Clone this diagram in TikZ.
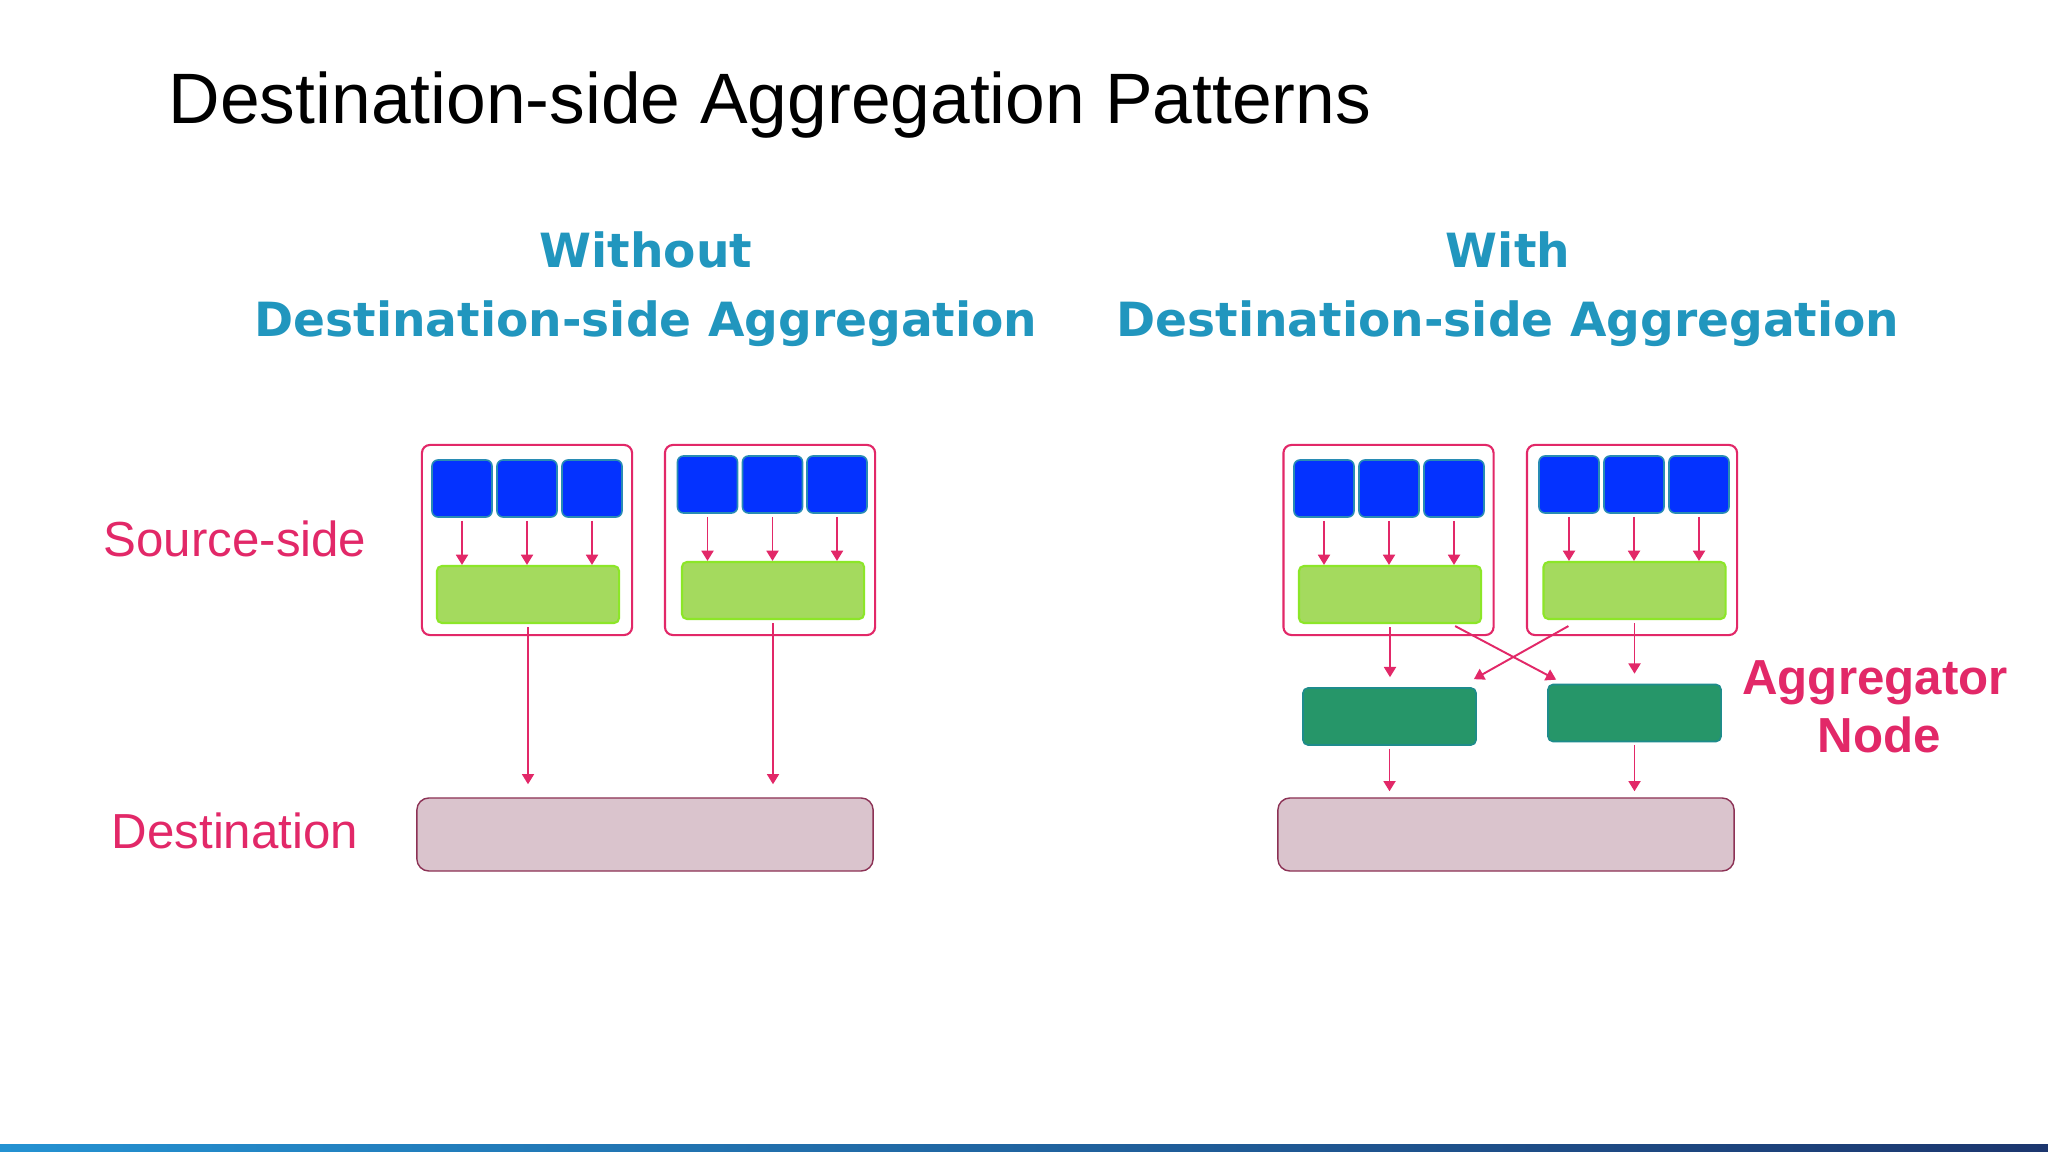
\documentclass[tikz,border=0pt]{standalone}
\usepackage{fontspec}
\setmainfont{Liberation Sans}
\newfontfamily\headfont{DejaVu Sans}
\usetikzlibrary{arrows.meta}
\definecolor{pinkc}{RGB}{226,40,104}
\definecolor{headc}{RGB}{33,150,190}
\definecolor{bluef}{RGB}{4,50,255}
\definecolor{blued}{RGB}{40,140,180}
\definecolor{greenf}{RGB}{164,218,94}
\definecolor{greend}{RGB}{140,230,40}
\definecolor{aggf}{RGB}{38,150,105}
\definecolor{aggd}{RGB}{30,140,140}
\definecolor{destf}{RGB}{218,196,205}
\definecolor{destd}{RGB}{140,50,85}
\definecolor{barl}{RGB}{36,146,210}
\definecolor{barr}{RGB}{28,54,110}

\begin{document}
\begin{tikzpicture}[x=0.01cm,y=-0.01cm]
\tikzstyle{grp}=[draw=pinkc,line width=0.6pt,fill=white,rounded corners=0.08cm,
minimum width=2.1cm,minimum height=1.9cm,inner sep=0pt]
\tikzstyle{src}=[draw=blued,line width=0.45pt,fill=bluef,rounded corners=0.06cm,
minimum width=0.6cm,minimum height=0.57cm,inner sep=0pt]
\tikzstyle{loc}=[draw=greend,line width=0.6pt,fill=greenf,rounded corners=0.05cm,
minimum width=1.82cm,minimum height=0.57cm,inner sep=0pt]
\tikzstyle{agg}=[draw=aggd,line width=0.45pt,fill=aggf,rounded corners=0.05cm,
minimum width=1.73cm,minimum height=0.57cm,inner sep=0pt]
\tikzstyle{dst}=[draw=destd,line width=0.4pt,fill=destf,rounded corners=0.12cm,
minimum width=4.56cm,minimum height=0.73cm,inner sep=0pt]
\tikzstyle{arr}=[draw=pinkc,line width=0.55pt,-{Triangle[width=3.4pt,length=2.9pt]}]
\tikzstyle{head}=[text=headc,font=\headfont\bfseries\fontsize{13.4}{16}\selectfont,anchor=base]
\tikzstyle{lbl}=[text=pinkc,font=\fontsize{14}{17}\selectfont,anchor=base]
\tikzstyle{aglbl}=[text=pinkc,font=\bfseries\fontsize{14}{17}\selectfont,anchor=base]

\fill[white] (0,0) rectangle (2048,1152);
\useasboundingbox (0,0) rectangle (2048,1152);

% titles
\node[anchor=base west,inner sep=0pt,font=\fontsize{20.3}{24}\selectfont] (title) at (168,124)
{Destination-side Aggregation Patterns};
\node[head] (hL1) at (646,268) {Without};
\node[head] (hL2) at (646,337) {Destination-side Aggregation};
\node[head] (hR1) at (1508,268) {With};
\node[head] (hR2) at (1508,337) {Destination-side Aggregation};
\node[lbl] (srcl) at (235,557) {Source-side};
\node[lbl] (dstl) at (235,848) {Destination};
\node[aglbl] (agl1) at (1875,695) {Aggregator};
\node[aglbl] (agl2) at (1879,752) {Node};

% without destination-side aggregation
\node[grp] (L1) at (527,540) {};
\node[loc] (L1g) at (528,594.5) {};
\foreach \i/\x in {1/462,2/527,3/592}{
\node[src] (L1s\i) at (\x,488.5) {};
\draw[arr,shorten <=0.03cm] (L1s\i.south) -- (L1s\i.south |- L1g.north);
}
\node[grp] (L2) at (770,540) {};
\node[loc] (L2g) at (773,590.5) {};
\foreach \i/\x in {1/707.5,2/772.5,3/837}{
\node[src] (L2s\i) at (\x,484.5) {};
\draw[arr,shorten <=0.03cm] (L2s\i.south) -- (L2s\i.south |- L2g.north);
}
\node[dst] (LD) at (645,834.5) {};
\draw[arr,shorten <=0.03cm,shorten >=0.13cm] (L1g.south) -- (L1g.south |- LD.north);
\draw[arr,shorten <=0.03cm,shorten >=0.13cm] (L2g.south) -- (L2g.south |- LD.north);

% with destination-side aggregation
\node[grp] (R1) at (1388.5,540) {};
\node[loc] (R1g) at (1390,594.5) {};
\foreach \i/\x in {1/1324,2/1389,3/1454}{
\node[src] (R1s\i) at (\x,488.5) {};
\draw[arr,shorten <=0.03cm] (R1s\i.south) -- (R1s\i.south |- R1g.north);
}
\node[grp] (R2) at (1632,540) {};
\node[loc] (R2g) at (1634.5,590.5) {};
\foreach \i/\x in {1/1569,2/1634,3/1699}{
\node[src] (R2s\i) at (\x,484.5) {};
\draw[arr,shorten <=0.03cm] (R2s\i.south) -- (R2s\i.south |- R2g.north);
}
\node[agg] (A1) at (1389.5,716.5) {};
\node[agg] (A2) at (1634.5,713) {};
\node[dst] (RD) at (1506,834.5) {};
\draw[arr,shorten <=0.03cm,shorten >=0.1cm] (R1g.south) -- (R1g.south |- A1.north);
\draw[arr,shorten <=0.03cm,shorten >=0.1cm] (R2g.south) -- (R2g.south |- A2.north);
\draw[arr] ([xshift=-0.27cm,yshift=-0.02cm]R1g.south east) -- ([xshift=0.09cm,yshift=0.04cm]A2.north west);
\draw[arr] ([xshift=0.26cm,yshift=-0.06cm]R2g.south west) -- ([xshift=-0.03cm,yshift=0.08cm]A1.north east);
\draw[arr,shorten <=0.03cm,shorten >=0.06cm] (A1.south) -- (A1.south |- RD.north);
\draw[arr,shorten <=0.03cm,shorten >=0.06cm] (A2.south) -- (A2.south |- RD.north);

% bottom bar
\shade[left color=barl,right color=barr] (0,1144) rectangle (2048,1152);
\end{tikzpicture}
\end{document}
